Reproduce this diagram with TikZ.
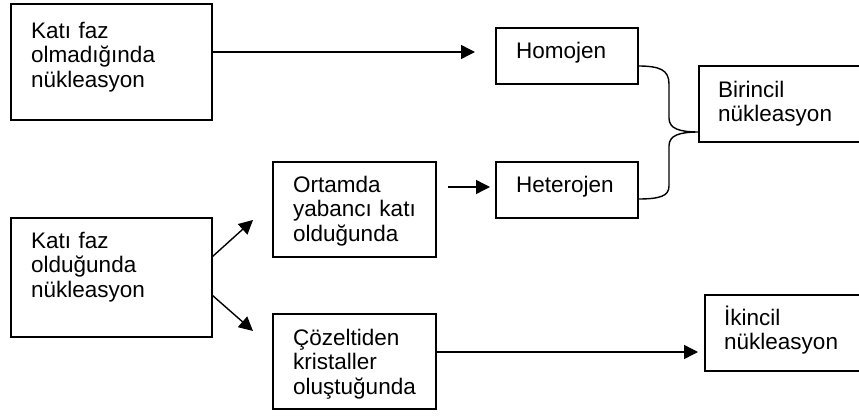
\documentclass[tikz,border=0pt]{standalone}
\usepackage{fontspec}
\setmainfont{Liberation Sans}
\usetikzlibrary{arrows.meta,calc}
\begin{document}
\begin{tikzpicture}[x=1pt,y=-1pt,
  box/.style={draw, line width=1.5pt, anchor=north west, inner sep=0pt, outer sep=0pt},
  txt/.style={anchor=base west, inner sep=0pt, text width=180pt, align=left,
              font=\fontsize{22.5}{24.5}\selectfont},
  arr/.style={line width=1.4pt, -{Triangle[length=14pt,width=14pt]}},
  brace/.style={line width=1.4pt},
]
\useasboundingbox (0,0) rectangle (859,415);
\clip (0,0) rectangle (859,415);

% boxes
\node[box, minimum width=201pt, minimum height=116pt] (b1) at (11,4) {};
\node[box, minimum width=142pt, minimum height=56pt] (homo) at (496,28) {};
\node[box, minimum width=180pt, minimum height=76pt] (bir) at (699,66) {};
\node[box, minimum width=142pt, minimum height=56pt] (het) at (496,162) {};
\node[box, minimum width=163pt, minimum height=95pt] (ort) at (273,162) {};
\node[box, minimum width=201pt, minimum height=119pt] (b2) at (11,218) {};
\node[box, minimum width=163pt, minimum height=95pt] (coz) at (273,314) {};
\node[box, minimum width=180pt, minimum height=76pt] (ikin) at (705,295) {};

% texts
\node[txt] (t1) at ($(b1.north west)+(20,34)$) {Katı faz\\olmadığında\\nükleasyon};
\node[txt] (thomo) at ($(homo.north west)+(20,30)$) {Homojen};
\node[txt] (tbir) at ($(bir.north west)+(19,31)$) {Birincil\\nükleasyon};
\node[txt] (thet) at ($(het.north west)+(20,30)$) {Heterojen};
\node[txt] (tort) at ($(ort.north west)+(20,30)$) {Ortamda\\yabancı katı\\olduğunda};
\node[txt] (t2) at ($(b2.north west)+(20,30)$) {Katı faz\\olduğunda\\nükleasyon};
\node[txt] (tcoz) at ($(coz.north west)+(20,31)$) {Çözeltiden\\kristaller\\oluştuğunda};
\node[txt] (tikin) at ($(ikin.north west)+(19,30)$) {İkincil\\nükleasyon};

% free ends
\coordinate (e1) at (475,52);
\coordinate (s2) at (448,187);
\coordinate (e2) at (490,187);
\coordinate (e3) at (253,220);
\coordinate (e4) at (253,331);
\coordinate (e5) at (698,352);
\coordinate (s3) at ($(b2.north east)+(0,39)$);
\coordinate (s4) at ($(b2.north east)+(0,77)$);

% arrows
\draw[arr] (b1.east |- e1) -- (e1);
\draw[arr] (s2) -- (e2);
\draw[arr] (s3) -- (e3);
\draw[arr] (s4) -- (e4);
\draw[arr] (coz.east |- e5) -- (e5);

% brace
\coordinate (hs) at ($(homo.north east)+(0,38)$);
\coordinate (tip) at ($(bir.north west)+(0,66)$);
\coordinate (hts) at ($(het.north east)+(0,37)$);
\draw[brace] (hs) .. controls (660,66) and (669,70) .. (669,84)
  -- (669,118) .. controls (669,129) and (680,132) .. (tip)
  .. controls (680,132) and (669,135) .. (669,146)
  -- (669,186) .. controls (669,196) and (660,199) .. (hts);
\end{tikzpicture}
\end{document}
